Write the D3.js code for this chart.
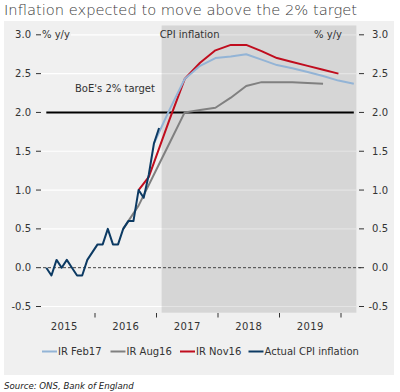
<!DOCTYPE html>
<html><head><meta charset="utf-8">
<script src="https://cdn.jsdelivr.net/npm/d3@7"></script>
<style>
html,body{margin:0;padding:0;background:#fff;}
svg{display:block;}
text{font-family:"DejaVu Sans",sans-serif;fill:#333;}
</style></head>
<body>
<svg id="chart" width="400" height="392"></svg>
<script>
// ---- data ----
const yearLabels = ["2015","2016","2017","2018","2019"];
const yearTicks = [2016, 2017, 2018, 2019, 2020];
const yTicks = [-0.5, 0.0, 0.5, 1.0, 1.5, 2.0, 2.5, 3.0];

const actualMonths = ["2015-03","2015-04","2015-05","2015-06","2015-07","2015-08","2015-09","2015-10","2015-11","2015-12",
  "2016-01","2016-02","2016-03","2016-04","2016-05","2016-06","2016-07","2016-08","2016-09","2016-10","2016-11","2016-12","2017-01"];
const actualValues = [0.0,-0.1,0.1,0.0,0.1,0.0,-0.1,-0.1,0.1,0.2,
  0.3,0.3,0.5,0.3,0.3,0.5,0.6,0.6,1.0,0.9,1.2,1.6,1.8];

const feb17Months = ["2016-12","2017-03","2017-06","2017-09","2017-12","2018-03","2018-06","2018-09","2018-12","2019-03","2019-06","2019-09","2019-12","2020-03"];
const feb17Values = [1.6,2.03,2.43,2.6,2.7,2.72,2.75,2.68,2.61,2.57,2.52,2.47,2.41,2.37];

const nov16Months = ["2016-09","2016-11","2017-03","2017-06","2017-09","2017-12","2018-03","2018-06","2018-09","2018-12","2019-03","2019-06","2019-09","2019-12"];
const nov16Values = [1.0,1.17,1.9,2.43,2.64,2.8,2.87,2.87,2.79,2.7,2.65,2.6,2.55,2.5];

const aug16Months = ["2016-06","2016-09","2016-12","2017-03","2017-06","2017-09","2017-12","2018-03","2018-06","2018-09","2018-12","2019-03","2019-06","2019-09"];
const aug16Values = [0.5,0.8,1.2,1.6,2.0,2.03,2.06,2.19,2.34,2.39,2.39,2.39,2.38,2.37];

const forecastStart = "2017-02"; // start of month
const forecastEnd = "2020-03";   // end of month
const targetValue = 2.0;

const seriesNames = ["IR Feb17","IR Aug16","IR Nov16","Actual CPI inflation"];
const seriesColors = ["#93b4d6","#808080","#c00d1e","#0c3a63"];

// ---- helpers ----
function dec(s, pos) { // pos: 0 start, 0.5 mid, 1 end
  const [y, m] = s.split("-").map(Number);
  return y + (m - 1 + pos) / 12;
}

const svg = d3.select("#chart");
const x = d3.scaleLinear().domain([2015, 2020]).range([33.5, 341]);
const y = d3.scaleLinear().domain([-0.5, 3.0]).range([306.5, 34.8]);

// panel
svg.append("rect").attr("x",4).attr("y",21).attr("width",390).attr("height",354).attr("fill","#f0f0f0");

// title
svg.append("text").attr("x",4).attr("y",15).attr("font-size",14.7).attr("font-weight",300)
  .style("fill","#3a3a3a").text("Inflation expected to move above the 2% target");

// grid
const gridX0 = 41, gridX1 = 356;
svg.append("g").selectAll("line").data(yTicks.filter(v => v !== 0 && v !== targetValue)).join("line")
  .attr("x1", gridX0).attr("x2", gridX1).attr("y1", d => y(d)).attr("y2", d => y(d))
  .attr("stroke","#fff").attr("stroke-width",1.2);

// shaded forecast region
svg.append("rect")
  .attr("x", x(dec(forecastStart,0))).attr("width", x(dec(forecastEnd,1)) - x(dec(forecastStart,0)))
  .attr("y", y(3.12)).attr("height", y(-0.58) - y(3.12))
  .attr("fill","rgba(0,0,0,0.105)");

// zero dashed line
svg.append("line").attr("x1",43).attr("x2",363).attr("y1",y(0)).attr("y2",y(0))
  .attr("stroke","#444").attr("stroke-width",1).attr("stroke-dasharray","3,2");

// target line
svg.append("line").attr("x1", x(dec(actualMonths[0],0.5))).attr("x2", x(dec(feb17Months[feb17Months.length-1],0.5)))
  .attr("y1", y(targetValue)).attr("y2", y(targetValue))
  .attr("stroke","#000").attr("stroke-width",2);

// left axis
const left = svg.append("g");
yTicks.forEach(v => {
  left.append("line").attr("x1",36).attr("x2",41).attr("y1",y(v)).attr("y2",y(v)).attr("stroke","#333");
  left.append("text").attr("x",31).attr("y",y(v)).attr("dy","0.36em").attr("text-anchor","end")
    .attr("font-size",10).text(d3.format(".1f")(v).replace("−","-"));
});
// right axis
const right = svg.append("g");
yTicks.forEach(v => {
  right.append("line").attr("x1",359).attr("x2",364).attr("y1",y(v)).attr("y2",y(v)).attr("stroke","#333");
  right.append("text").attr("x",388).attr("y",y(v)).attr("dy","0.36em").attr("text-anchor","end")
    .attr("font-size",10).text(d3.format(".1f")(v).replace("−","-"));
});

// unit labels
function labelWithBg(xp, yp, txt, anchor) {
  const g = svg.append("g");
  const r = g.append("rect").attr("fill","#f0f0f0");
  const t = g.append("text").attr("x",xp).attr("y",yp).attr("dy","0.36em").attr("font-size",10)
    .attr("text-anchor",anchor||"start").text(txt);
  const b = t.node().getBBox();
  r.attr("x",b.x-1).attr("y",b.y).attr("width",b.width+2).attr("height",b.height);
  return g;
}
labelWithBg(42, y(3.0), "% y/y");
svg.append("text").attr("x",342).attr("y",y(3.0)).attr("dy","0.36em").attr("font-size",10)
  .attr("text-anchor","end").text("% y/y");
svg.append("text").attr("x",x(dec(forecastStart,0))-2).attr("y",y(3.0)).attr("dy","0.36em").attr("font-size",10)
  .text("CPI inflation");
svg.append("text").attr("x",75).attr("y",y(2.31)).attr("dy","0.36em").attr("font-size",10)
  .text("BoE's 2% target");

// x axis
const xa = svg.append("g");
yearTicks.forEach(t => {
  xa.append("line").attr("x1",x(t)).attr("x2",x(t)).attr("y1",313).attr("y2",317.5).attr("stroke","#333");
});
yearLabels.forEach(l => {
  xa.append("text").attr("x",x(+l + 0.5)).attr("y",329.5).attr("text-anchor","middle")
    .attr("font-size",10).attr("letter-spacing",0.4).text(l);
});

// lines
const line = d3.line().x(d => x(d[0])).y(d => y(d[1]));
function draw(months, values, color) {
  svg.append("path").datum(months.map((m,i) => [dec(m,0.5), values[i]]))
    .attr("d", line).attr("fill","none").attr("stroke",color).attr("stroke-width",2)
    .attr("stroke-linejoin","round");
}
draw(aug16Months, aug16Values, seriesColors[1]);
draw(nov16Months, nov16Values, seriesColors[2]);
draw(feb17Months, feb17Values, seriesColors[0]);
draw(actualMonths, actualValues, seriesColors[3]);

// legend
const legendX = [42, 110.5, 180, 248.5];
const lg = svg.append("g");
seriesNames.forEach((n,i) => {
  lg.append("line").attr("x1",legendX[i]).attr("x2",legendX[i]+15).attr("y1",351.5).attr("y2",351.5)
    .attr("stroke",seriesColors[i]).attr("stroke-width",2);
  lg.append("text").attr("x",legendX[i]+16).attr("y",351.5).attr("dy","0.36em").attr("font-size",10).text(n);
});

// source
svg.append("text").attr("x",4).attr("y",389).attr("font-size",8.6).attr("font-style","italic")
  .style("fill","#222").text("Source: ONS, Bank of England");
</script>
</body></html>
